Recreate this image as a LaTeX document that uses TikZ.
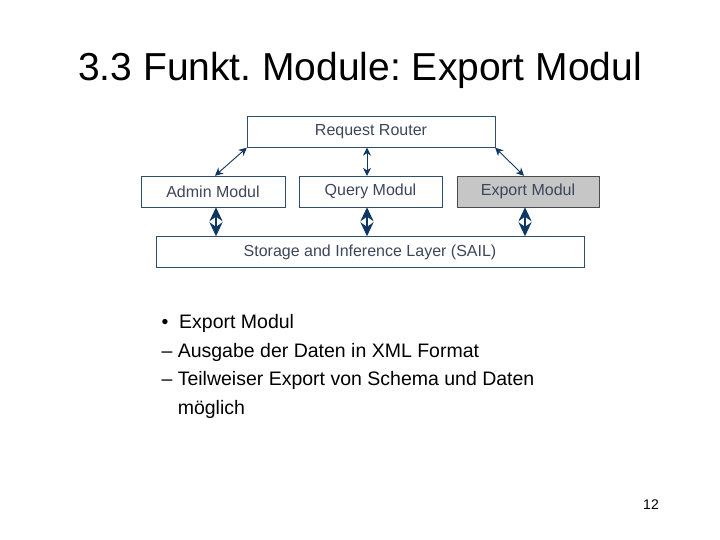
\documentclass[tikz,border=0pt]{standalone}
\usepackage{fontspec}
\setmainfont{Liberation Sans}
\usepackage{tikz}
\usetikzlibrary{arrows.meta}
\frenchspacing
\definecolor{linkblue}{RGB}{15,55,100}
\definecolor{boxtext}{RGB}{60,70,90}
\tikzset{
  modul/.style={rectangle, draw=linkblue!70!gray, text=boxtext, minimum height=31pt, inner sep=0pt, font=\fontsize{16}{18}\selectfont},
  thin link/.style={{Stealth[length=8pt,width=8pt]}-{Stealth[length=8pt,width=8pt]}, draw=linkblue, line width=0.9pt},
  thick link/.style={{Stealth[length=14pt,width=13pt]}-{Stealth[length=14pt,width=13pt]}, draw=linkblue, line width=2.5pt},
}
\begin{document}
\begin{tikzpicture}[x=1pt,y=-1pt]
  \useasboundingbox (0,0) rectangle (720,540);
  \node [font=\fontsize{39}{43}\selectfont] (title) at (360,70) {3.3 Funkt. Module: Export Modul};

  \node [modul, minimum width=248pt] (router) at (371,132) {Request Router};
  \node [modul, minimum width=144pt] (admin) at (213,191.5) {Admin Modul};
  \node [modul, minimum width=143pt] (query) at (370.5,191.5) {Query Modul};
  \node [modul, minimum width=142pt, fill=gray!45, draw=black!70] (export) at (528,191.5) {Export Modul};
  \node [modul, minimum width=428pt] (sail) at (370,252) {Storage and Inference Layer (SAIL)};

  \draw [thin link] (router.south west) -- (admin.north -| 215,0);
  \draw [thin link] (router.south -| 367,0) -- (query.north -| 367,0);
  \draw [thin link] (router.south east) -- (export.north -| 524,0);
  \draw [thick link] (admin.south -| 216,0) -- (sail.north -| 216,0);
  \draw [thick link] (query.south -| 367,0) -- (sail.north -| 367,0);
  \draw [thick link] (export.south -| 525,0) -- (sail.north -| 525,0);

  \node [anchor=north west, align=left, font=\fontsize{19.5}{28.5}\selectfont] (bullets) at (158,311)
    {•\ \ Export Modul\\
     -- Ausgabe der Daten in XML Format\\
     -- Teilweiser Export von Schema und Daten\\
     \phantom{-- }möglich};
  \node [font=\fontsize{14}{16}\selectfont] (page) at (651,505) {12};
\end{tikzpicture}
\end{document}
